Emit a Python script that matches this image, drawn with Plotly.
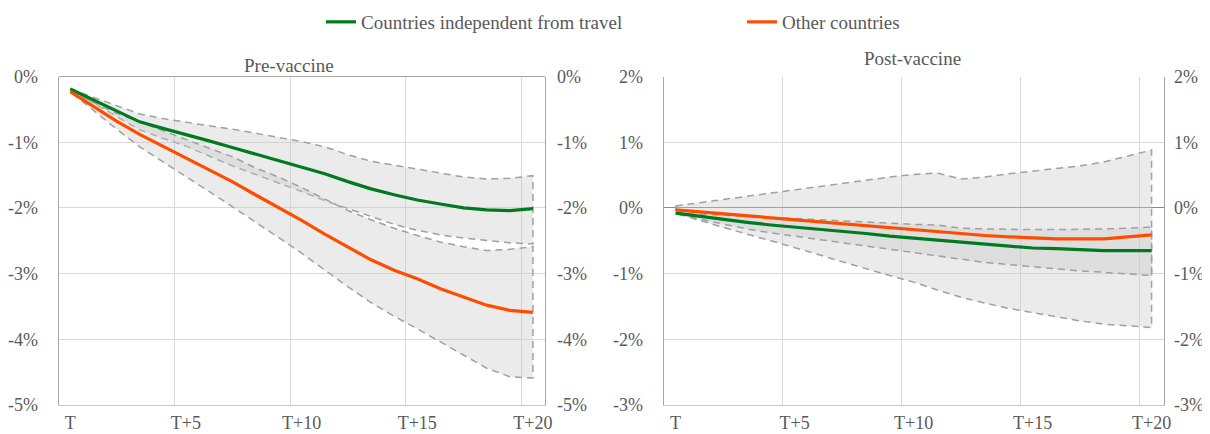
import plotly.graph_objects as go

# ---- data (percent) ----
steps = list(range(21))
tick_pos = [0, 5, 10, 15, 20]
tick_text = ["T", "T+5", "T+10", "T+15", "T+20"]

# Pre-vaccine
pre_green = [-0.19, -0.36, -0.53, -0.69, -0.79, -0.88, -0.98, -1.08, -1.18, -1.27, -1.37,
             -1.48, -1.60, -1.71, -1.80, -1.88, -1.94, -2.00, -2.03, -2.04, -2.01]
pre_green_hi = [-0.19, -0.32, -0.45, -0.57, -0.64, -0.70, -0.75, -0.80, -0.86, -0.92, -0.99,
                -1.07, -1.19, -1.29, -1.35, -1.40, -1.47, -1.53, -1.56, -1.55, -1.51]
pre_green_lo = [-0.19, -0.40, -0.61, -0.81, -0.94, -1.06, -1.21, -1.36, -1.50, -1.62, -1.75,
                -1.89, -2.01, -2.13, -2.25, -2.34, -2.41, -2.46, -2.50, -2.53, -2.55]
pre_orange = [-0.23, -0.46, -0.68, -0.88, -1.06, -1.24, -1.42, -1.60, -1.80, -1.99, -2.19,
              -2.40, -2.60, -2.79, -2.95, -3.08, -3.23, -3.36, -3.48, -3.56, -3.59]
pre_orange_hi = [-0.23, -0.40, -0.56, -0.69, -0.83, -0.96, -1.09, -1.22, -1.39, -1.53, -1.69,
                 -1.86, -2.04, -2.18, -2.31, -2.42, -2.52, -2.59, -2.65, -2.63, -2.59]
pre_orange_lo = [-0.23, -0.52, -0.80, -1.07, -1.29, -1.52, -1.75, -1.98, -2.21, -2.45, -2.69,
                 -2.94, -3.20, -3.44, -3.65, -3.84, -4.03, -4.24, -4.44, -4.57, -4.59]

# Post-vaccine
post_green = [-0.08, -0.13, -0.18, -0.22, -0.26, -0.29, -0.33, -0.36, -0.39, -0.43, -0.46,
              -0.49, -0.53, -0.56, -0.58, -0.61, -0.62, -0.64, -0.65, -0.65, -0.65]
post_green_hi = [-0.08, -0.09, -0.11, -0.13, -0.14, -0.16, -0.18, -0.20, -0.22, -0.24, -0.25,
                 -0.26, -0.31, -0.32, -0.33, -0.33, -0.33, -0.33, -0.32, -0.31, -0.29]
post_green_lo = [-0.08, -0.17, -0.25, -0.32, -0.38, -0.43, -0.48, -0.54, -0.59, -0.64, -0.68,
                 -0.73, -0.78, -0.83, -0.87, -0.90, -0.93, -0.96, -0.98, -1.00, -1.03]
post_orange = [-0.03, -0.06, -0.09, -0.12, -0.15, -0.19, -0.22, -0.25, -0.28, -0.31, -0.34,
               -0.36, -0.39, -0.42, -0.44, -0.46, -0.47, -0.47, -0.47, -0.44, -0.41]
post_orange_hi = [0.03, 0.08, 0.13, 0.17, 0.22, 0.27, 0.32, 0.37, 0.42, 0.47, 0.51,
                  0.53, 0.44, 0.47, 0.52, 0.56, 0.59, 0.64, 0.70, 0.79, 0.88]
post_orange_lo = [-0.08, -0.19, -0.30, -0.40, -0.50, -0.60, -0.71, -0.82, -0.93, -1.03, -1.13,
                  -1.25, -1.36, -1.45, -1.53, -1.60, -1.66, -1.72, -1.77, -1.80, -1.82]

pre_ticks = [0, -1, -2, -3, -4, -5]
post_ticks = [2, 1, 0, -1, -2, -3]

GREEN = "#007a1f"
ORANGE = "#ff4d00"
BAND_LINE = "#a0a0a0"
BAND_FILL = "rgba(200,200,200,0.36)"
GRID = "#d9d9d9"
AXIS = "#a6a6a6"
TXT = "#595959"
FONT = "Liberation Serif"

# the page body has an 8px margin, so the figure is 8px smaller than the window
W, H = 1202, 426

fig = go.Figure()


def band(hi, lo, xa, ya):
    xs = steps + steps[::-1] + [steps[0]]
    ys = hi + lo[::-1] + [hi[0]]
    fig.add_trace(go.Scatter(x=xs, y=ys, xaxis=xa, yaxis=ya, mode="lines", fill="toself",
                             fillcolor=BAND_FILL,
                             line=dict(color=BAND_LINE, width=1.5, dash="7px,5px"),
                             showlegend=False, hoverinfo="skip"))


band(pre_green_hi, pre_green_lo, "x", "y")
band(pre_orange_hi, pre_orange_lo, "x", "y")
band(post_orange_hi, post_orange_lo, "x2", "y3")
band(post_green_hi, post_green_lo, "x2", "y3")

fig.add_trace(go.Scatter(x=steps, y=pre_green, xaxis="x", yaxis="y", mode="lines",
                         line=dict(color=GREEN, width=3.2),
                         name="Countries independent from travel"))
fig.add_trace(go.Scatter(x=steps, y=pre_orange, xaxis="x", yaxis="y", mode="lines",
                         line=dict(color=ORANGE, width=3.2), name="Other countries"))
fig.add_trace(go.Scatter(x=steps, y=post_orange, xaxis="x2", yaxis="y3", mode="lines",
                         line=dict(color=ORANGE, width=3.2), showlegend=False))
fig.add_trace(go.Scatter(x=steps, y=post_green, xaxis="x2", yaxis="y3", mode="lines",
                         line=dict(color=GREEN, width=3.2), showlegend=False))
# invisible carriers for the right-hand mirror axes
fig.add_trace(go.Scatter(x=steps, y=pre_green, xaxis="x", yaxis="y2", mode="lines",
                         line=dict(width=0), opacity=0, showlegend=False, hoverinfo="skip"))
fig.add_trace(go.Scatter(x=steps, y=post_green, xaxis="x2", yaxis="y4", mode="lines",
                         line=dict(width=0), opacity=0, showlegend=False, hoverinfo="skip"))

ytop = 1 - 68.5 / H
ybot = 1 - 397 / H

xcommon = dict(range=[-0.5, 20.5], tickmode="array", tickvals=tick_pos, ticktext=tick_text,
               showgrid=False, zeroline=False, showline=True, linecolor="#c8c8c8",
               ticks="", ticklabelstandoff=1, automargin=False,
               minor=dict(tickvals=[4.5, 9.5, 14.5, 19.5], showgrid=True, gridcolor=GRID,
                          gridwidth=1, ticks=""),
               tickfont=dict(family=FONT, size=18, color=TXT), fixedrange=True)


def ycommon(rng, ticks, standoff):
    return dict(range=rng, tickmode="array", tickvals=ticks,
                ticktext=[f"{t}%" for t in ticks], domain=[ybot, ytop],
                showline=True, linecolor=AXIS, ticks="", automargin=False,
                ticklabelstandoff=standoff, tickfont=dict(family=FONT, size=18, color=TXT),
                fixedrange=True)


fig.update_layout(
    width=W, height=H,
    margin=dict(l=0, r=0, t=0, b=0, autoexpand=False),
    paper_bgcolor="white", plot_bgcolor="white",
    font=dict(family=FONT, size=18, color=TXT),
    xaxis=dict(domain=[50.7 / W, 536.5 / W], anchor="y", **xcommon),
    xaxis2=dict(domain=[655.7 / W, 1155.5 / W], anchor="y3", **xcommon),
    yaxis=dict(anchor="x", side="left", showgrid=True, gridcolor=GRID, zeroline=True,
               zerolinecolor=AXIS, zerolinewidth=1, **ycommon([-5, 0], pre_ticks, 16)),
    yaxis2=dict(anchor="x", overlaying="y", side="right", showgrid=False, zeroline=False,
                **ycommon([-5, 0], pre_ticks, 8)),
    yaxis3=dict(anchor="x2", side="left", showgrid=True, gridcolor=GRID, zeroline=True,
                zerolinecolor="#8c8c8c", zerolinewidth=1, **ycommon([-3, 2], post_ticks, 16)),
    yaxis4=dict(anchor="x2", overlaying="y3", side="right", showgrid=False, zeroline=False,
                **ycommon([-3, 2], post_ticks, 6)),
    legend=dict(orientation="h", x=313 / W, xanchor="left", y=1 - 14 / H,
                yanchor="middle", font=dict(family=FONT, size=19, color=TXT),
                entrywidth=376, entrywidthmode="pixels", itemwidth=30,
                bgcolor="rgba(0,0,0,0)"),
    showlegend=True,
    annotations=[
        dict(text="Pre-vaccine", x=281 / W, y=1 - 58 / H, xref="paper", yref="paper",
             xanchor="center", yanchor="middle", showarrow=False,
             font=dict(family=FONT, size=19, color=TXT)),
        dict(text="Post-vaccine", x=904 / W, y=1 - 51 / H, xref="paper", yref="paper",
             xanchor="center", yanchor="middle", showarrow=False,
             font=dict(family=FONT, size=19, color=TXT)),
    ],
)

fig.write_html("out.html")
